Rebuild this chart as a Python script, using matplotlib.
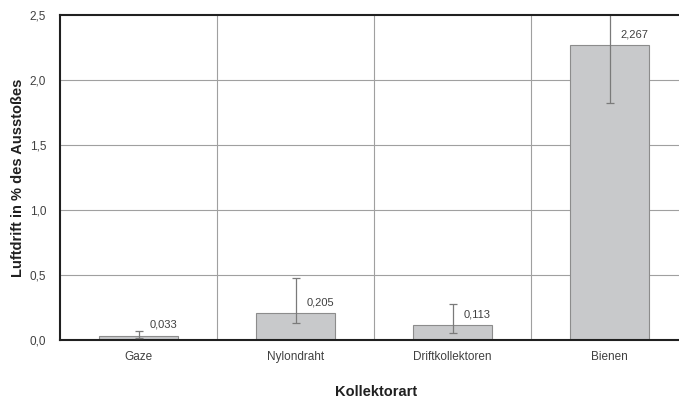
import numpy as np
import matplotlib.pyplot as plt

# Luftdrift je Kollektorart (Mittelwert mit Fehlerbereich)
kategorien = ['Gaze', 'Nylondraht', 'Driftkollektoren', 'Bienen']
werte = [0.033, 0.205, 0.113, 2.267]
fehler_unten = [0.015, 0.133, 0.056, 1.823]
fehler_oben = [0.069, 0.480, 0.274, 2.800]
beschriftung = ['0,033', '0,205', '0,113', '2,267']
yticks = [0.0, 0.5, 1.0, 1.5, 2.0, 2.5]
ytick_labels = ['0,0', '0,5', '1,0', '1,5', '2,0', '2,5']

plt.rcParams['font.family'] = ['Liberation Sans', 'DejaVu Sans']

fig = plt.figure(figsize=(6.79, 4.0), dpi=100)
ax = fig.add_axes([60 / 679, 60 / 400, 628 / 679, 325 / 400])

x = np.arange(len(kategorien))
werte_arr = np.array(werte)
yerr = [werte_arr - np.array(fehler_unten), np.array(fehler_oben) - werte_arr]

ax.bar(x, werte, width=0.5, color='#c8c9cb', edgecolor='#8c8c8c',
       linewidth=0.8, zorder=2)
ax.errorbar(x, werte, yerr=yerr, fmt='none', ecolor='#7a7a7a',
            elinewidth=0.9, capsize=3, capthick=0.9, zorder=3)

for xi, w, txt in zip(x, werte, beschriftung):
    ax.text(xi + 0.07, w + 0.045, txt, fontsize=8, color='#404040',
            ha='left', va='bottom', zorder=4)

ax.set_xlim(-0.5, len(kategorien) - 0.5)
ax.set_ylim(0, 2.5)
ax.set_yticks(yticks)
ax.set_yticklabels(ytick_labels)
ax.set_xticks(x)
ax.set_xticklabels(kategorien)

# horizontale Gitterlinien und Trennlinien zwischen den Kategorien
for y in yticks[1:-1]:
    ax.axhline(y, color='#a0a0a0', linewidth=0.8, zorder=1)
for b in x[:-1] + 0.5:
    ax.axvline(b, color='#a0a0a0', linewidth=0.8, zorder=1)

ax.tick_params(axis='both', length=0, labelsize=8.5, labelcolor='#404040')
ax.tick_params(axis='y', pad=10)
ax.tick_params(axis='x', pad=8)

for s in ['left', 'top', 'bottom']:
    ax.spines[s].set_color('#202020')
    ax.spines[s].set_linewidth(1.5)
ax.spines['right'].set_visible(False)
ax.spines['top'].set_zorder(5)

ax.set_ylabel('Luftdrift in % des Ausstoßes', fontsize=10.5, fontweight='bold',
              color='#202020', va='center')
ax.set_xlabel('Kollektorart', fontsize=10.5, fontweight='bold',
              color='#202020', va='center')
ax.yaxis.set_label_coords(-0.067, 0.5)
ax.xaxis.set_label_coords(0.503, -0.161)

fig.savefig('out.png', dpi=100)
